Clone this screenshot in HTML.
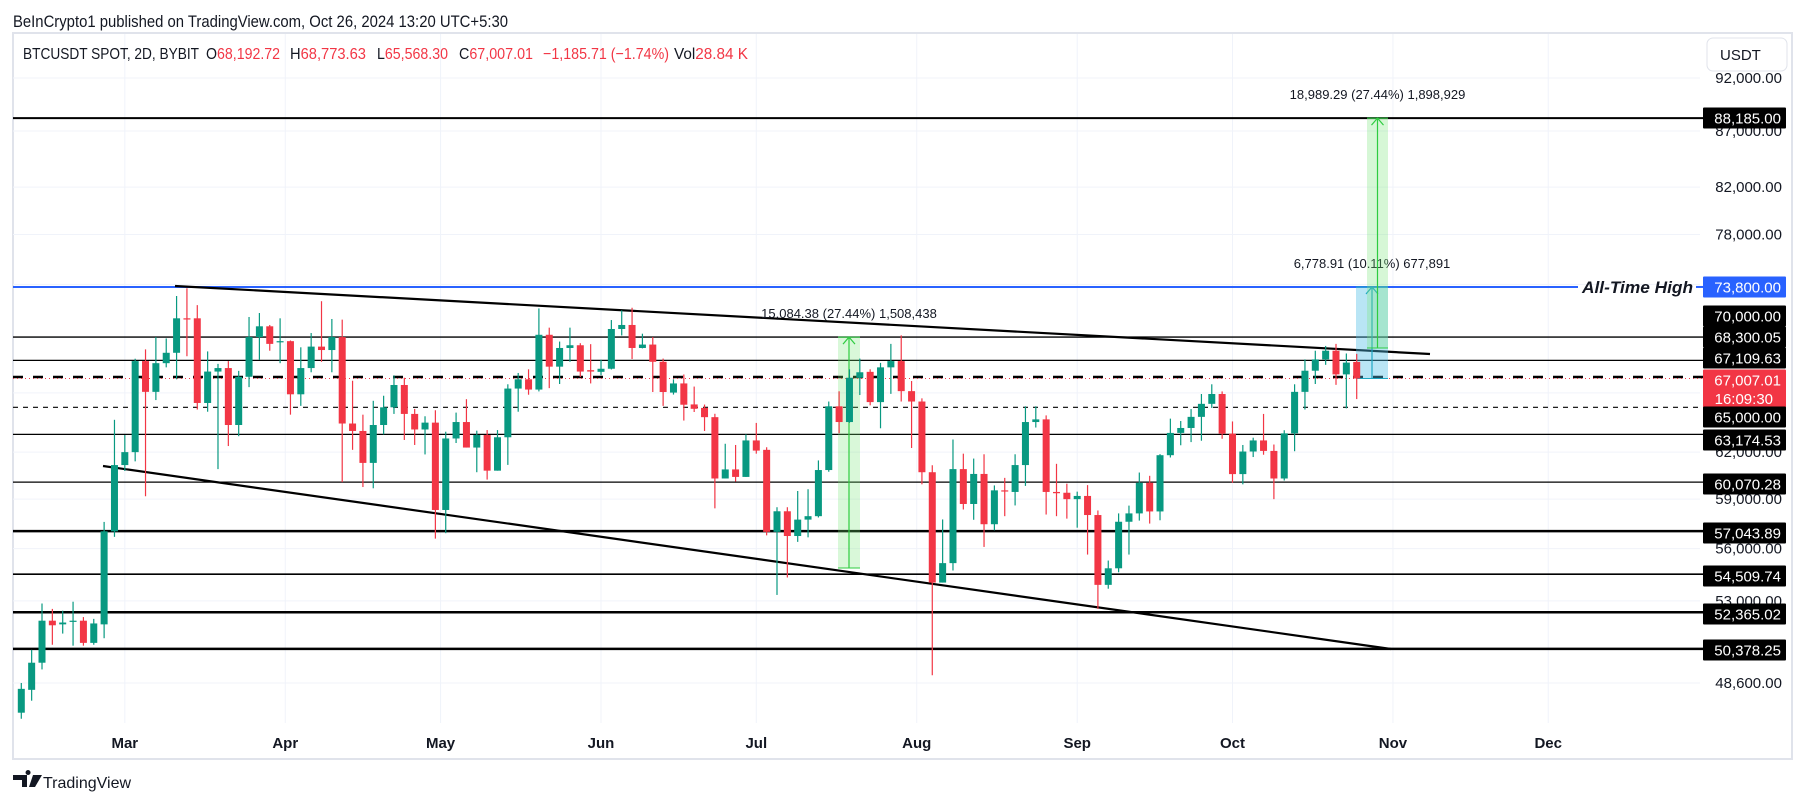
<!DOCTYPE html>
<html><head><meta charset="utf-8"><style>
html,body{margin:0;padding:0;background:#fff;}
svg{display:block;font-family:"Liberation Sans",sans-serif;}
</style></head><body>
<svg id="chart" width="1805" height="803" viewBox="0 0 1805 803" xmlns="http://www.w3.org/2000/svg">
<text x="13" y="27" font-size="17" fill="#131722" textLength="495" lengthAdjust="spacingAndGlyphs">BeInCrypto1 published on TradingView.com, Oct 26, 2024 13:20 UTC+5:30</text>
<rect x="13" y="33" width="1779" height="726" fill="none" stroke="#e0e3eb" stroke-width="2"/>
<g id="grid"></g>
<g id="levels"></g>
<g id="trend"></g>
<g id="proj"></g>
<g id="candles"></g>
<g id="axis"></g>
<g font-size="16" fill="#131722">
<text x="23" y="59" textLength="176" lengthAdjust="spacingAndGlyphs">BTCUSDT SPOT, 2D, BYBIT</text>
<text x="206" y="59" textLength="74" lengthAdjust="spacingAndGlyphs">O<tspan fill="#f23645">68,192.72</tspan></text>
<text x="290" y="59" textLength="76" lengthAdjust="spacingAndGlyphs">H<tspan fill="#f23645">68,773.63</tspan></text>
<text x="377" y="59" textLength="71" lengthAdjust="spacingAndGlyphs">L<tspan fill="#f23645">65,568.30</tspan></text>
<text x="459" y="59" textLength="74" lengthAdjust="spacingAndGlyphs">C<tspan fill="#f23645">67,007.01</tspan></text>
<text x="543" y="59" textLength="126" lengthAdjust="spacingAndGlyphs" fill="#f23645">−1,185.71 (−1.74%)</text>
<text x="674" y="59" textLength="74" lengthAdjust="spacingAndGlyphs">Vol<tspan fill="#f23645">28.84 K</tspan></text>
</g>
<rect x="1707" y="38" width="80" height="33" rx="6" fill="#fff" stroke="#e0e3eb"/>
<text x="1720" y="60" font-size="15" fill="#131722">USDT</text>
<g>
<path d="M13,775 h14 v12 h-5 v-7 h-9z M28,775 a2.5,2.5 0 1,1 0.1,0 M33,775 h9 l-7,12 h-6z" fill="#131722"/>
<text x="43" y="788" font-size="16" fill="#131722">TradingView</text>
</g>
</svg>
<script>
const opens=[47100,48250,49650,51900,51700,51850,51900,50700,51700,57030,61160,62000,68250,66070,68100,68850,71400,71400,65300,67500,67750,63800,67130,70000,70800,69650,69700,65900,67750,69300,69050,70000,63900,63400,61300,63800,65000,66550,64550,63500,63960,58330,62900,64000,62300,63130,60800,62980,66300,66950,66230,70170,67850,69200,69400,67600,67480,67700,70600,70900,69200,69450,68200,66020,66660,65200,64960,64330,60300,60880,60400,62770,62150,57000,58250,56750,57740,57950,60840,65070,64000,67060,67480,65360,67800,68250,66120,65400,60700,54030,55150,60900,58700,60590,57460,59550,59450,61160,64000,64180,59450,59400,59000,59200,58020,53900,54850,57610,58120,60030,58240,61800,63270,63600,64350,65240,65920,63220,60580,62040,62770,62080,60300,63240,66070,67560,68370,69000,67300,68190];
const highs=[48600,50330,52850,52550,52450,52950,52100,52000,57600,64150,63130,68420,69100,70000,69900,73100,73700,72400,68950,68050,68250,67550,71500,71800,70900,71400,69750,69250,70300,72700,71350,71300,66850,64500,65450,65800,67230,67060,64890,64390,64800,63350,64640,65560,63420,63460,63460,66600,67400,67660,72150,70700,69670,70700,69550,69480,68350,71270,72000,72200,70250,70000,68430,66950,67290,66440,65190,64560,62550,62470,63170,63940,62320,58500,58500,59510,59620,61460,65400,66110,67660,68430,67660,68120,69500,70130,66830,65620,61150,57750,62830,61900,61580,61860,59860,60340,61860,65070,65070,64450,61240,59970,59470,59880,58300,55300,58120,58600,60680,60470,61870,64230,64070,64880,65920,66600,66100,64040,62470,62950,64550,62500,63450,66600,68370,69000,69350,69500,68800,68773];
const lows=[46800,47700,49300,50600,51200,50550,50550,50600,50950,56700,60780,61400,59180,65500,67800,66950,68600,64850,64700,60900,62400,63050,66400,68330,69000,68100,64500,65100,67450,68200,67450,60070,62150,59760,59680,63170,64550,62800,62470,61850,56590,56920,62600,62300,60700,60230,60800,61170,64700,65870,66100,66330,66620,68200,67109,66660,67240,67650,70120,68400,69170,66060,65100,65880,64100,64680,63400,58430,60300,60100,60400,61900,56790,53330,54320,56400,56670,57870,60730,63250,63950,65850,65140,63580,65930,65400,62270,59930,49000,54030,54720,58360,57730,56100,57090,57950,58610,59830,63630,58050,57950,57800,57250,55650,52550,53680,54620,55650,57680,57500,57700,61650,62450,62660,62750,64960,62880,60030,59930,61680,61830,59000,60170,62060,64850,66620,67980,66560,64930,65568];
const closes=[48300,49650,51900,51650,51800,51900,50700,51750,57030,61160,62000,68250,66070,68100,68850,71400,71350,65300,67500,67750,63800,67130,70000,70800,69500,69700,65900,67750,69300,69050,70000,63900,63400,61300,63800,65000,66550,64550,63500,63960,58330,62900,64000,62300,63130,60800,62980,66300,66950,66230,70170,67850,69200,69400,67500,67500,67700,70600,70900,69200,69450,68200,66060,66660,65180,64900,64330,60300,60880,60400,62770,62100,57000,58250,56750,57740,57950,60840,65070,64000,67060,67450,65360,67800,68250,66120,65400,60700,54030,55150,60900,58700,60590,57460,59550,59510,61160,64000,64180,59450,59370,59000,59200,58020,53900,54850,57610,58120,60030,58240,61800,63270,63600,64350,65240,65920,63220,60580,62040,62770,62080,60300,63240,66070,67560,68370,69000,67300,68140,67007];
const levelPrices=[88185,73800,70000,68300,67109.63,67007.01,65000,63174.53,60070.28,57043.89,54509.74,52365.02,50378.25];
const levelLabels=["88,185.00","73,800.00","70,000.00","68,300.05","67,109.63","67,007.01","65,000.00","63,174.53","60,070.28","57,043.89","54,509.74","52,365.02","50,378.25"];
const tickPrices=[92000,87000,82000,78000,62000,59000,56000,53000,48600];
const tickLabels=["92,000.00","87,000.00","82,000.00","78,000.00","62,000.00","59,000.00","56,000.00","53,000.00","48,600.00"];
const monthLabels=["Mar","Apr","May","Jun","Jul","Aug","Sep","Oct","Nov","Dec"];
const monthDays=[20,51,81,112,142,173,204,234,265,295];

const NS="http://www.w3.org/2000/svg";
const LNTOP=Math.log(92000);
function yS(p){return 78+(LNTOP-Math.log(p))*948;}
function xS(i){return 21.3+i*10.352;}
function xD(d){return 21.3+d/2*10.352;}
function mk(tag,attrs,parent){const e=document.createElementNS(NS,tag);for(const k in attrs)e.setAttribute(k,attrs[k]);parent.appendChild(e);return e;}
const G=id=>document.getElementById(id);

const grid=G('grid');
tickPrices.concat([74000,70000,66000,50400]).forEach(p=>{
  const l=mk('line',{x1:13,x2:1700,y1:yS(p),y2:yS(p),stroke:'#f0f3fa','stroke-width':1},grid);
  
  
});
monthDays.forEach((d,i)=>{
  const l=mk('line',{x1:xD(d),x2:xD(d),y1:34,y2:723,stroke:'#f0f3fa','stroke-width':1},grid);
  
  
  const t=mk('text',{x:xD(d),y:748,'text-anchor':'middle','font-size':15,'font-weight':'bold',fill:'#131722'},G('axis'));
  t.textContent=monthLabels[i];
  
  
});

const lv=G('levels');
const styles=[{w:2,c:'#000'},{w:2,c:'#2962ff'},{w:1.3,c:'#000'},{w:1.3,c:'#000'},{w:2.5,c:'#000',d:'10 10'},{w:1,c:'#f23645',d:'1 3'},{w:1.2,c:'#000',d:'5 5'},{w:1.3,c:'#000'},{w:1.3,c:'#000'},{w:2.5,c:'#000'},{w:1.6,c:'#000'},{w:2.5,c:'#000'},{w:2.5,c:'#000'}];
levelPrices.forEach((p,i)=>{
  const s=styles[i];const y=yS(p);
  if(i===1){
    const a=mk('line',{x1:13,x2:1578,y1:y,y2:y,stroke:s.c,'stroke-width':s.w},lv);
    
    
    mk('line',{x1:1696,x2:1703,y1:y,y2:y,stroke:s.c,'stroke-width':s.w},lv);
    const t=mk('text',{x:1582,y:y+6,'font-size':17,'font-style':'italic','font-weight':'bold',fill:'#131722',textLength:111,lengthAdjust:'spacingAndGlyphs'},lv);
    t.textContent='All-Time High';
    
    
    return;
  }
  const a=mk('line',{x1:13,x2:1703,y1:y,y2:y,stroke:s.c,'stroke-width':s.w},lv);
  if(s.d)a.setAttribute('stroke-dasharray',s.d);
  
  
});

const tr=G('trend');
const t1=mk('line',{x1:175,y1:286,x2:1430,y2:354,stroke:'#000','stroke-width':2.2},tr);


const t2=mk('line',{x1:103,y1:466,x2:1391,y2:649,stroke:'#000','stroke-width':2.2},tr);



const pr=G('proj');
function proj(x0,x1,pTop,pBot,fill,stroke,label,name){
  const yt=yS(pTop),yb=yS(pBot),xc=(x0+x1)/2;
  const r=mk('rect',{x:x0,y:yt,width:x1-x0,height:yb-yt,fill:fill},pr);
  
  
  mk('line',{x1:xc,x2:xc,y1:yt,y2:yb,stroke:stroke,'stroke-width':1.2},pr);
  mk('line',{x1:x0,x2:x1,y1:yt,y2:yt,stroke:stroke,'stroke-width':1},pr);
  mk('line',{x1:x0,x2:x1,y1:yb,y2:yb,stroke:stroke,'stroke-width':1},pr);
  mk('polyline',{points:(xc-6)+','+(yt+7)+' '+xc+','+yt+' '+(xc+6)+','+(yt+7),fill:'none',stroke:stroke,'stroke-width':1.2},pr);
  const t=mk('text',{x:xc,y:yt-19,'text-anchor':'middle','font-size':13,fill:'#131722'},pr);
  t.textContent=label;
  
  
}
proj(838,860,70000,54870,'rgba(120,230,120,0.28)','#2ecc40','15,084.38 (27.44%) 1,508,438','projection-july');
proj(1356,1388,73800,67007,'rgba(80,190,230,0.4)','#1ea7c4','6,778.91 (10.11%) 677,891','projection-ath');
proj(1367,1388,88185,69200,'rgba(120,230,120,0.3)','#2ecc40','18,989.29 (27.44%) 1,898,929','projection-target');

const cg=G('candles');
for(let i=0;i<opens.length;i++){
  const up=closes[i]>=opens[i];const col=up?'#089981':'#f23645';const x=xS(i);
  const g=mk('g',{},cg);
  
  
  mk('line',{x1:x,x2:x,y1:yS(highs[i]),y2:yS(lows[i]),stroke:col,'stroke-width':1.2},g);
  const yt=yS(Math.max(opens[i],closes[i])),yb=yS(Math.min(opens[i],closes[i]));
  mk('rect',{x:x-3.5,y:yt,width:7,height:Math.max(1.2,yb-yt),fill:col},g);
}

const ax=G('axis');
tickPrices.forEach((p,i)=>{
  const t=mk('text',{x:1782,y:yS(p)+5,'text-anchor':'end','font-size':15,fill:'#131722'},ax);
  t.textContent=tickLabels[i];
  
  
});
const labelY=[118,287,316,337,358,380,417,440,484,533,576,614,650];
levelPrices.forEach((p,i)=>{
  const y=labelY[i];
  const bg=i===1?'#2962ff':(i===5?'#f23645':'#000');
  const h=i===5?38:21;
  const r=mk('rect',{x:1703,y:y-10.5,width:83,height:h,fill:bg,rx:1},ax);
  
  
  const t=mk('text',{x:1781,y:y+5.5,'text-anchor':'end','font-size':15,fill:'#fff'},ax);
  t.textContent=levelLabels[i];
  
  
  if(i===5){
    const c=mk('text',{x:1773,y:y+24,'text-anchor':'end','font-size':15,fill:'#fff'},ax);
    c.textContent='16:09:30';
    
    
  }
});
</script>
</body></html>
